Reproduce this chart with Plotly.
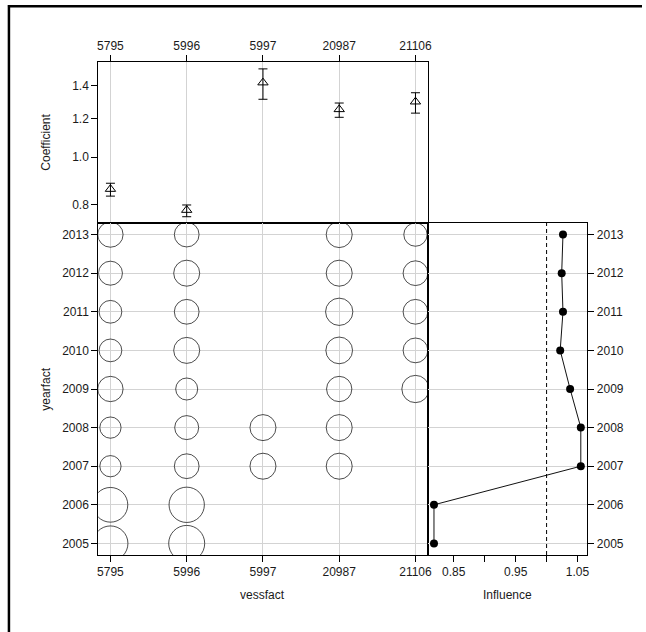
import math
import plotly.graph_objects as go

# ---------------- data ----------------
vessels = ["5795", "5996", "5997", "20987", "21106"]
coef = [0.860, 0.779, 1.420, 1.252, 1.298]
coef_lower = [0.832, 0.755, 1.313, 1.206, 1.230]
coef_upper = [0.884, 0.798, 1.515, 1.290, 1.354]

years = [2005, 2006, 2007, 2008, 2009, 2010, 2011, 2012, 2013]
# number of records per vessel and year (None = no records)
counts_5795 = [306, 301, 113, 113, 160, 129, 129, 144, 160]
counts_5996 = [324, 312, 153, 144, 121, 169, 153, 169, 153]
counts_5997 = [None, None, 169, 169, None, None, None, None, None]
counts_20987 = [None, None, 169, 169, 160, 178, 186, 169, 169]
counts_21106 = [None, None, None, None, 186, 153, 153, 153, 136]

influence = [0.818, 0.818, 1.0553, 1.0553, 1.038, 1.022, 1.0265, 1.0244, 1.0265]

influence_ticks = [0.85, 0.90, 0.95, 1.00, 1.05]
influence_ticktext = ["0.85", "", "0.95", "", "1.05"]
coef_ticks = [0.8, 1.0, 1.2, 1.4]
coef_ticktext = ["0.8", "1.0", "1.2", "1.4"]

# ---------------- layout geometry ----------------
W, H = 646, 632
def px(x):
    return x / W
def py(y):
    return 1 - y / H

xL, xM, xR = px(98), px(430), px(591)
yT, yM, yB = py(62), py(223), py(555)

FONT = "Liberation Sans, Arial, sans-serif"
FS = 12
TXT = "#1a1a1a"
GRID = "#d3d3d3"

fig = go.Figure()

# ---- top panel: coefficients ----
fig.add_trace(go.Scatter(
    x=[-0.5, 4.5], y=[1.0, 1.0], xaxis="x", yaxis="y",
    mode="lines", line=dict(color="black", width=1, dash="4px,3px"),
    hoverinfo="skip", showlegend=False))

fig.add_trace(go.Scatter(
    x=vessels, y=coef, xaxis="x", yaxis="y", mode="markers",
    marker=dict(symbol="triangle-up-open", size=9, color="black",
                line=dict(color="black", width=1)),
    error_y=dict(type="data", symmetric=False,
                 array=[u - c for u, c in zip(coef_upper, coef)],
                 arrayminus=[c - l for c, l in zip(coef, coef_lower)],
                 color="black", thickness=1, width=4.5),
    hoverinfo="skip", showlegend=False))

# ---- bottom-left: bubbles ----
all_counts = [counts_5795, counts_5996, counts_5997, counts_20987, counts_21106]
for v, cnts in zip(vessels, all_counts):
    ys = [y for y, c in zip(years, cnts) if c is not None]
    ss = [2 * math.sqrt(c) for c in cnts if c is not None]
    fig.add_trace(go.Scatter(
        x=[v] * len(ys), y=ys, xaxis="x2", yaxis="y2", mode="markers",
        marker=dict(symbol="circle-open", size=ss, color="black",
                    line=dict(color="black", width=1)),
        hoverinfo="skip", showlegend=False))

# ---- bottom-right: influence ----
fig.add_trace(go.Scatter(
    x=influence, y=years, xaxis="x3", yaxis="y3", mode="lines+markers",
    line=dict(color="#111111", width=1),
    marker=dict(symbol="circle", size=8, color="black"),
    hoverinfo="skip", showlegend=False))

common = dict(showline=True, linecolor="black", linewidth=1, mirror=True,
              ticks="outside", ticklen=6, tickcolor="black", tickwidth=1,
              tickfont=dict(family=FONT, size=FS, color=TXT),
              zeroline=False, fixedrange=True)

fig.update_layout(
    width=W, height=H,
    margin=dict(l=0, r=0, t=0, b=0),
    paper_bgcolor="white", plot_bgcolor="white",
    font=dict(family=FONT, size=FS, color=TXT),
    xaxis=dict(domain=[xL, xM], anchor="y", side="top", type="category",
               categoryorder="array", categoryarray=vessels,
               range=[-0.16, 4.16], showgrid=True, gridcolor=GRID, gridwidth=1,
               **common),
    yaxis=dict(domain=[yM, yT], anchor="x", type="log",
               range=[math.log10(0.733), math.log10(1.565)],
               tickvals=coef_ticks, ticktext=coef_ticktext, showgrid=False,
               **common),
    xaxis2=dict(domain=[xL, xM], anchor="y2", side="bottom", type="category",
                categoryorder="array", categoryarray=vessels,
                range=[-0.16, 4.16], showgrid=True, gridcolor=GRID, gridwidth=1,
                **common),
    yaxis2=dict(domain=[yB, yM], anchor="x2", range=[2004.7, 2013.3],
                tickvals=years, ticktext=[str(y) for y in years],
                showgrid=True, gridcolor=GRID, gridwidth=1, **common),
    xaxis3=dict(domain=[xM, xR], anchor="y3", range=[0.8078, 1.066],
                tickvals=influence_ticks, ticktext=influence_ticktext,
                showgrid=False, **common),
    yaxis3=dict(domain=[yB, yM], anchor="x3", side="right", range=[2004.7, 2013.3],
                tickvals=years, ticktext=[str(y) for y in years],
                showgrid=True, gridcolor=GRID, gridwidth=1, **common),
)

# dashed vertical line at influence 1.0
fig.add_shape(type="line", xref="x3", yref="y3 domain", x0=1.0, x1=1.0, y0=0, y1=1,
              line=dict(color="black", width=1, dash="4px,3px"))

# outer frame (left and top)
fig.add_shape(type="line", xref="paper", yref="paper", x0=px(8), x1=px(8),
              y0=py(5), y1=0, line=dict(color="black", width=2.5))
fig.add_shape(type="line", xref="paper", yref="paper", x0=px(7), x1=1,
              y0=py(6.3), y1=py(6.3), line=dict(color="black", width=2.5))

# axis titles
def title(text, x, y, angle=0):
    fig.add_annotation(text=text, xref="paper", yref="paper", x=px(x), y=py(y),
                       showarrow=False, textangle=angle, xanchor="center",
                       yanchor="middle", font=dict(family=FONT, size=FS, color=TXT))

title("Coefficient", 45, 142, -90)
title("yearfact", 45, 389, -90)
title("vessfact", 264, 595)
title("Influence", 510, 595)

fig.write_html("out.html",
               config={"displayModeBar": False, "staticPlot": True},
               post_script="document.body.style.margin='0';document.body.style.overflow='hidden';")
